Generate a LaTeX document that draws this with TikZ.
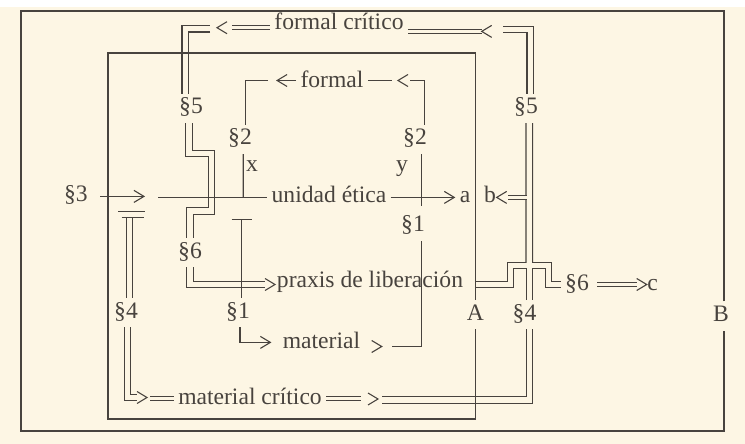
\documentclass[tikz,border=0pt]{standalone}
\usepackage{fontspec}
\setmainfont{Liberation Serif}
\usetikzlibrary{arrows.meta}
\definecolor{paper}{RGB}{253,246,228}
\definecolor{ink}{RGB}{72,67,62}
\tikzset{
	lbl/.style={
		inner sep=2pt,
		text height=8pt,
		text depth=2.4pt,
		text=ink,
		font=\fontsize{11.8}{14}\selectfont,
		anchor=base
	},
	ln/.style={draw=ink, line width=0.55pt},
	dbl/.style={ln, double=paper, double distance=2.7pt},
	eq/.style={ln, double=paper, double distance=1.45pt},
	arr/.style={ln, -{Straight Barb[length=5pt,width=6pt]}},
	tbar/.style={ln, -{Bar[width=10pt]}},
	chev/.pic={\draw[ln] (-10,-6) -- (0,0) -- (-10,6);}
}
\begin{document}
\begin{tikzpicture}[x=0.5pt,y=-0.5pt]
\useasboundingbox (0,0) rectangle (745,444);
\fill[white] (0,0) rectangle (745,7);
\fill[paper] (0,7) rectangle (745,444);

% labels
\node[lbl] (fc) at (339,29.3) {formal crítico};
\node[lbl] (s5l) at (191,114) {\S5};
\node[lbl] (s5r) at (526,114) {\S5};
\node[lbl] (fm) at (332,88) {formal};
\node[lbl] (s2l) at (240,145) {\S2};
\node[lbl] (s2r) at (415,145) {\S2};
\node[lbl] (lx) at (252,172) {x};
\node[lbl] (ly) at (402,172) {y};
\node[lbl] (s3) at (76,202) {\S3};
\node[lbl] (ue) at (329,203) {unidad ética};
\node[lbl] (la) at (465,203) {a};
\node[lbl] (lb) at (490,203) {b};
\node[lbl] (s1r) at (413,232) {\S1};
\node[lbl] (s6l) at (190,258) {\S6};
\node[lbl] (prx) at (370,287) {praxis de liberación};
\node[lbl] (s6r) at (577,290.1) {\S6};
\node[lbl] (lc) at (652.5,291) {c};
\node[lbl] (s4l) at (126,318) {\S4};
\node[lbl] (s1l) at (238,318) {\S1};
\node[lbl] (nA) at (475.5,320) {A};
\node[lbl] (s4r) at (524.5,320) {\S4};
\node[lbl] (nB) at (721,321.7) {B};
\node[lbl] (mat) at (321.5,348) {material};
\node[lbl] (mc) at (250,404) {material crítico};

% double connectors
\draw[dbl] (210,28.75) -| ([xshift=-2.9pt]s5l.north);
\draw[dbl] (503,29.5) -| ([xshift=2.1pt]s5r.north);
\draw[dbl] ([xshift=-1pt]s5l.south) |- (211.5,153.5) |- (190,211) -- (s6l.north);
\draw[dbl] (s6l.south) |- (265,284.5);
\draw[dbl] (476,284.5) -| (510.5,265.5) -| (548.5,284.5) -- (s6r.west);
\draw[dbl] ([xshift=1.6pt]s5r.south) -- (529.2,262.8);
\draw[dbl] (382,400) -| ([xshift=2.5pt]s4r.south);
\draw[dbl] ([xshift=2.5pt]s4r.north) -- (529.5,268.2);
\draw[dbl] ([xshift=1.8pt]s4l.north) -- (129.6,217.3);
\draw[dbl] ([xshift=0.7pt]s4l.south) |- (137,397.5);
\draw[eq] ([xshift=4pt]lb.east) -- (526.5,197.4);
\draw[eq] ([yshift=-2pt]fc.west) -- (231.7,27.7);
\draw[eq] ([yshift=-3.85pt]fc.east) -- (481.7,31.4);
\draw[eq] (150,398.4) -- (mc.west);
\draw[eq] (mc.east) -- (361,398.4);
\draw[eq] ([xshift=2pt]s6r.east) -- (636.7,284.5);

% single connectors
\draw[arr] ([xshift=4pt]s3.east) -- (145,196.4);
\draw[ln] (158,197.4) -- (ue.west);
\draw[arr] (ue.east) -- (la.west);
\draw[ln] ([xshift=1.6pt]s2l.south) -- (243.2,197.4);
\draw[ln] ([xshift=3.25pt]s2r.south) -- ([xshift=4.25pt,yshift=2.6pt]s1r.north);
\draw[ln] ([xshift=4.25pt]s1r.south) |- (391.7,346.5);
\draw[tbar] ([xshift=1.8pt]s1l.north) -- (241.6,219);
\draw[arr] ([xshift=1pt]s1l.south) |- ([xshift=-3.5pt]mat.west);
\draw[ln] ([xshift=4.75pt]s2r.north) |- (410,80.5);
\draw[ln] ([yshift=0.95pt]fm.east) -- (392,80.5);
\draw[arr] ([yshift=0.95pt]fm.west) -- (276,80.5);
\draw[ln] (268,80.5) -| ([xshift=2.75pt]s2l.north);
\draw[ln] (118,211.7) -- (145,211.7);
\draw[ln] (121.5,217.3) -- (143.5,217.3);

% boxes
\draw[ln] ([xshift=1.5pt]nB.north) |- (21,11) -- (21,431) -| ([xshift=1.5pt]nB.south);
\draw[ln] (nA.north) |- (108,53) -- (108,419) -| (nA.south);

% chevrons
\pic[rotate=180] at (217,27.7) {chev};
\pic[rotate=180] at (481.7,31.4) {chev};
\pic[rotate=180] at (398,80.5) {chev};
\pic[rotate=180] at (496.7,197.4) {chev};
\pic at (275,284.5) {chev};
\pic at (646.7,284.5) {chev};
\pic at (147,397.5) {chev};
\pic at (378,399) {chev};
\pic at (381.7,346.5) {chev};
\end{tikzpicture}
\end{document}
